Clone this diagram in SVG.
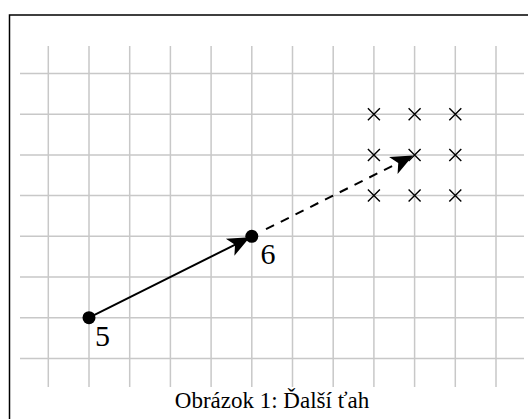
<svg xmlns="http://www.w3.org/2000/svg" width="528" height="419" viewBox="0 0 528 419">
<style>
.grid{stroke:#c8c8c8;stroke-width:1.5;fill:none}
.edge{stroke:#000;stroke-width:2;fill:none}
.dash{stroke-dasharray:9 7.5}
.xm{stroke:#000;stroke-width:1.4;fill:none}
.lbl{font-family:"Liberation Serif","Times New Roman",serif;font-size:30px;fill:#000}
.cap{font-family:"Liberation Serif","Times New Roman",serif;font-size:23px;fill:#000}
</style>
<defs>
<marker id="ah" markerUnits="userSpaceOnUse" markerWidth="28" markerHeight="24" viewBox="-26 -12 28 24" refX="0" refY="0" orient="auto">
<path d="M0,0 L-22,-9.5 L-16.5,0 L-22,9.5 Z" fill="#000"/>
</marker>
<path id="xm" d="M-6,-6 L6,6 M-6,6 L6,-6"/>
</defs>
<path d="M528,15H9.5V419" fill="none" stroke="#000" stroke-width="1.5"/>
<g id="grid" class="grid">
<path d="M48.3,46V387M89,46V387M129.7,46V387M170.4,46V387M211.1,46V387M251.8,46V387M292.5,46V387M333.2,46V387M373.9,46V387M414.6,46V387M455.3,46V387M496,46V387"/>
<path d="M20,73.5H524M20,114.2H524M20,154.9H524M20,195.6H524M20,236.3H524M20,277H524M20,317.7H524M20,358.4H524"/>
</g>
<g id="candidates" class="xm">
<use href="#xm" x="373.9" y="114.2"/><use href="#xm" x="414.6" y="114.2"/><use href="#xm" x="455.3" y="114.2"/>
<use href="#xm" x="373.9" y="154.9"/><use href="#xm" x="414.6" y="154.9"/><use href="#xm" x="455.3" y="154.9"/>
<use href="#xm" x="373.9" y="195.6"/><use href="#xm" x="414.6" y="195.6"/><use href="#xm" x="455.3" y="195.6"/>
</g>
<g id="connectors">
<line class="edge" x1="89" y1="317.7" x2="249.8" y2="237.3" marker-end="url(#ah)"/>
<line class="edge dash" x1="266" y1="229.2" x2="413" y2="155.6" marker-end="url(#ah)"/>
</g>
<g id="node5">
<circle cx="89" cy="317.7" r="6.5" fill="#000"/>
<text class="lbl" x="95" y="345.5">5</text>
</g>
<g id="node6">
<circle cx="251.8" cy="236.3" r="6.5" fill="#000"/>
<text class="lbl" x="260.5" y="264.3">6</text>
</g>
<text class="cap" x="272" y="408" text-anchor="middle">Obrázok 1: Ďalší ťah</text>
</svg>
